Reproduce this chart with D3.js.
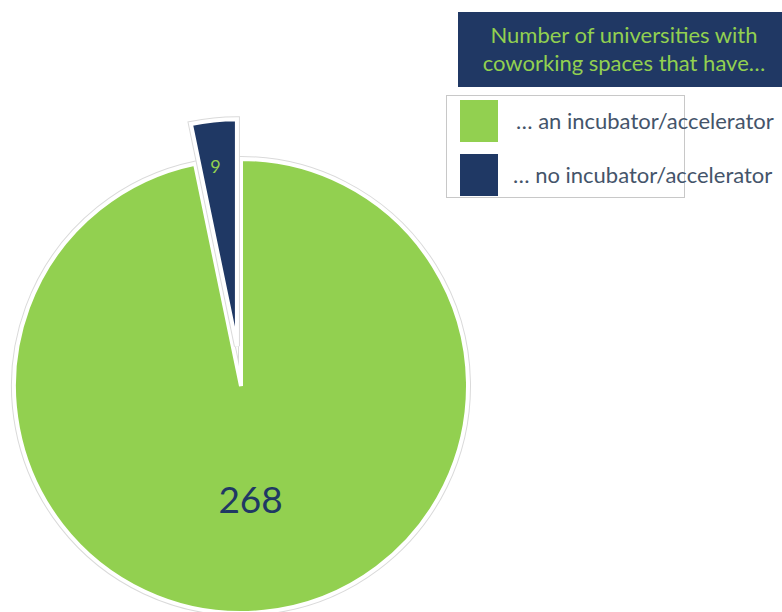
<!DOCTYPE html>
<html><head><meta charset="utf-8">
<script src="https://cdn.jsdelivr.net/npm/d3@7"></script>
<style>body{margin:0;background:#fff;}svg{display:block;}</style>
</head><body>
<svg id="c" width="782" height="612"></svg>
<script>
const categories = ["… an incubator/accelerator", "… no incubator/accelerator"];
const values = [268, 9];
const colors = ["#92d050", "#1f3864"];
const legendTitle = ["Number of universities with", "coworking spaces that have…"];

const svg = d3.select("#c");
const cx = 241, cy = 386, R = 227;
const explode = [0, 40];

const pie = d3.pie().sort(null).value(d => d)(values);
const arc = d3.arc().innerRadius(0).outerRadius(R);
const labelArc = [d3.arc().innerRadius(R*0.5).outerRadius(R*0.5), d3.arc().innerRadius(R*0.8).outerRadius(R*0.8)];

const g = svg.append("g").attr("transform", `translate(${cx},${cy})`);
const slices = g.selectAll("g.slice").data(pie).join("g")
  .attr("class", "slice")
  .attr("transform", (d, i) => {
    const a = (d.startAngle + d.endAngle) / 2;
    const e = explode[i];
    return `translate(${e*Math.sin(a)},${-e*Math.cos(a)})`;
  });
slices.append("path").attr("d", arc).attr("fill", "none")
  .attr("stroke", "#dadada").attr("stroke-width", 6).attr("stroke-linejoin", "miter");
slices.append("path").attr("d", arc).attr("fill", (d, i) => colors[i])
  .attr("stroke", "#ffffff").attr("stroke-width", 4).attr("stroke-linejoin", "miter");

slices.append("text")
  .attr("transform", (d, i) => `translate(${labelArc[i].centroid(d)})`)
  .attr("dx", (d, i) => i === 0 ? -2 : -3)
  .attr("text-anchor", "middle").attr("dominant-baseline", "central")
  .attr("font-family", "Lato, 'Open Sans', sans-serif")
  .attr("font-size", (d, i) => i === 0 ? 37 : 18)
  .attr("fill", (d, i) => i === 0 ? "#1f3864" : "#92d050")
  .text(d => d.data);

// Legend title box
const lt = svg.append("g");
lt.append("rect").attr("x", 458).attr("y", 12).attr("width", 330).attr("height", 75).attr("fill", "#203864");
lt.selectAll("text").data(legendTitle).join("text")
  .attr("x", 624).attr("y", (d, i) => 43 + i * 28)
  .attr("text-anchor", "middle")
  .attr("font-family", "Lato, sans-serif").attr("font-size", 22)
  .attr("fill", "#92d050").text(d => d);

// Legend box
const lg = svg.append("g");
lg.append("rect").attr("x", 446.5).attr("y", 95.5).attr("width", 238).attr("height", 102)
  .attr("fill", "#fff").attr("stroke", "#c8c8c8").attr("stroke-width", 1);
const items = lg.selectAll("g.item").data(categories).join("g").attr("class", "item")
  .attr("transform", (d, i) => `translate(460,${100 + i * 54})`);
items.append("rect").attr("width", 38).attr("height", 42).attr("fill", (d, i) => colors[i]);
items.append("text").attr("x", (d, i) => i === 0 ? 56 : 53).attr("y", 29)
  .attr("font-family", "Lato, sans-serif").attr("font-size", 22)
  .attr("fill", "#44546a").text(d => d);
</script>
</body></html>
